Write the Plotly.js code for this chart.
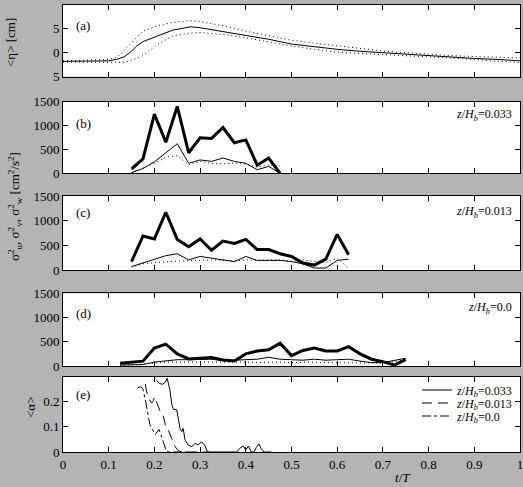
<!DOCTYPE html>
<html>
<head>
<meta charset="utf-8">
<script src="https://cdn.plot.ly/plotly-3.0.1.min.js"></script>
<style>
  html, body { margin: 0; padding: 0; background: #b4b4b4; }
  #plot { width: 523px; height: 487px; }
</style>
</head>
<body>
<div id="plot"></div>
<script>
// (a) mean surface elevation and envelope
let tEta = [0, 0.05, 0.1, 0.12, 0.135, 0.15, 0.16, 0.175, 0.19, 0.21, 0.24, 0.28, 0.3, 0.35, 0.4, 0.45, 0.5, 0.55, 0.6, 0.65, 0.7, 0.75, 0.8, 0.85, 0.9, 0.95, 1];
let etaMean = [-1.8, -1.75, -1.7, -1.3, -0.8, 0.3, 1.3, 2.3, 2.9, 3.6, 4.7, 5.4, 5.2, 4.4, 3.6, 2.8, 1.8, 1.2, 0.7, 0.3, 0.0, -0.3, -0.7, -0.9, -1.2, -1.4, -1.7];
let etaUpper = [-1.7, -1.6, -1.4, -0.8, 0.6, 2.0, 3.1, 4.5, 5.0, 5.7, 6.3, 6.7, 6.5, 5.6, 4.5, 3.5, 2.6, 2.0, 1.4, 0.8, 0.35, 0.0, -0.35, -0.6, -0.8, -1.0, -1.1];
let etaLower = [-1.95, -1.95, -1.95, -2.1, -2.0, -1.6, -1.2, -0.6, 0.5, 1.9, 3.5, 4.1, 4.2, 3.8, 3.1, 2.2, 1.4, 0.7, 0.1, -0.15, -0.35, -0.6, -0.8, -1.1, -1.4, -1.7, -2.1];

// (b) z/Hb = 0.033
let tB = [0.15, 0.175, 0.2, 0.225, 0.25, 0.275, 0.3, 0.325, 0.35, 0.375, 0.4, 0.425, 0.45, 0.475];
let uB = [90, 300, 1240, 650, 1400, 430, 745, 730, 960, 640, 700, 170, 320, 0];
let vB = [15, 100, 240, 430, 620, 210, 280, 250, 320, 250, 210, 75, 145, 0];
let wB = [10, 105, 210, 340, 370, 180, 250, 210, 200, 210, 190, 130, 175, 160];

// (c) z/Hb = 0.013
let tC = [0.15, 0.175, 0.2, 0.225, 0.25, 0.275, 0.3, 0.325, 0.35, 0.375, 0.4, 0.425, 0.45, 0.475, 0.5, 0.525, 0.55, 0.575, 0.6, 0.625];
let uC = [170, 690, 630, 1170, 620, 470, 630, 400, 585, 540, 620, 415, 415, 330, 275, 140, 100, 220, 720, 310];
let vC = [70, 140, 205, 290, 330, 205, 275, 240, 205, 170, 275, 195, 195, 195, 170, 125, 40, 40, 195, 220];
let wC = [55, 125, 150, 170, 180, 185, 195, 205, 195, 185, 205, 195, 205, 205, 180, 205, 170, 150, 240, 35];

// (d) z/Hb = 0.0
let tD = [0.125, 0.15, 0.175, 0.2, 0.225, 0.25, 0.275, 0.3, 0.325, 0.35, 0.375, 0.4, 0.425, 0.45, 0.475, 0.5, 0.525, 0.55, 0.575, 0.6, 0.625, 0.65, 0.675, 0.7, 0.725, 0.75];
let uD = [55, 85, 100, 370, 450, 250, 145, 160, 175, 125, 105, 250, 310, 335, 470, 215, 320, 370, 310, 310, 400, 250, 140, 90, 20, 130];
let vD = [20, 30, 30, 80, 100, 130, 130, 140, 140, 110, 120, 140, 140, 180, 140, 130, 120, 140, 120, 130, 140, 100, 70, 70, 110, 160];
let wD = [10, 20, 40, 60, 80, 80, 80, 80, 80, 80, 90, 80, 70, 80, 80, 70, 80, 80, 70, 70, 70, 70, 60, 60, 90, 130];

// (e) void fraction
let tE1 = [0.205, 0.212, 0.218, 0.224, 0.228, 0.234, 0.238, 0.242, 0.249, 0.253, 0.256, 0.26, 0.263, 0.267, 0.274, 0.282, 0.289, 0.296, 0.303, 0.31, 0.316, 0.33, 0.35, 0.37, 0.38, 0.387, 0.394, 0.4, 0.406, 0.412, 0.418, 0.423, 0.429, 0.434, 0.44, 0.448, 0.456];
let aE1 = [0.284, 0.272, 0.27, 0.278, 0.293, 0.247, 0.19, 0.17, 0.168, 0.127, 0.094, 0.081, 0.094, 0.048, 0.028, 0.021, 0.035, 0.028, 0.041, 0.028, 0, 0, 0, 0, 0, 0.015, 0.024, 0.008, 0.024, 0, 0, 0.018, 0.032, 0.012, 0, 0, 0];
let tE2 = [0.18, 0.183, 0.187, 0.19, 0.194, 0.198, 0.2, 0.204, 0.208, 0.212, 0.216, 0.22, 0.224, 0.228, 0.232, 0.236, 0.24, 0.245, 0.25, 0.255, 0.26, 0.28, 0.3, 0.32];
let aE2 = [0.27, 0.24, 0.22, 0.205, 0.195, 0.205, 0.22, 0.2, 0.185, 0.165, 0.155, 0.14, 0.107, 0.1, 0.08, 0.06, 0.04, 0.022, 0.01, 0.003, 0, 0, 0, 0];
let tE3 = [0.163, 0.17, 0.175, 0.178, 0.181, 0.184, 0.187, 0.19, 0.194, 0.198, 0.202, 0.206, 0.21, 0.214, 0.218, 0.222, 0.226, 0.23, 0.25, 0.28];
let aE3 = [0.255, 0.26, 0.25, 0.23, 0.2, 0.17, 0.13, 0.11, 0.095, 0.08, 0.07, 0.08, 0.09, 0.07, 0.045, 0.02, 0.005, 0, 0, 0];

let depthLabels = ["0.033", "0.013", "0.0"];
let tTicks = [0, 0.1, 0.2, 0.3, 0.4, 0.5, 0.6, 0.7, 0.8, 0.9, 1];
let tTickText = ["0", "0.1", "0.2", "0.3", "0.4", "0.5", "0.6", "0.7", "0.8", "0.9", "1"];

let serif = "Liberation Serif";
let dotted = "1px,3px";

function line(x, y, ax, width, dash, name, legend) {
  let tr = {
    x: x, y: y, xaxis: "x" + ax, yaxis: "y" + ax,
    type: "scatter", mode: "lines", name: name || "",
    showlegend: !!legend,
    line: { color: "black", width: width, dash: dash || "solid" },
    hoverinfo: "skip"
  };
  if (legend) tr.legend = legend;
  return tr;
}
function hb(v) { return "<i>z</i>/<i>H<sub>b</sub></i>=" + v; }

let traces = [
  line(tEta, etaUpper, "", 1, dotted),
  line(tEta, etaLower, "", 1, dotted),
  line(tEta, etaMean, "", 1),

  line(tB, wB, 2, 1, dotted),
  line(tB, vB, 2, 1),
  line(tB, uB, 2, 3),

  line(tC, wC, 3, 1, dotted),
  line(tC, vC, 3, 1),
  line(tC, uC, 3, 3),

  line(tD, wD, 4, 1, dotted),
  line(tD, vD, 4, 1),
  line(tD, uD, 4, 3),

  // one legend per row so the rows can sit close together
  line(tE1, aE1, 5, 1, "solid", hb(depthLabels[0]), "legend"),
  line(tE2, aE2, 5, 1, "10px,6px", hb(depthLabels[1]), "legend2"),
  line(tE3, aE3, 5, 1, "dashdot", hb(depthLabels[2]), "legend3")
];

// panel positions, measured top/bottom in pixels
let plotH = 448, marginTop = 4, plotL = 63, plotW = 457;
function dom(y0, y1) { return [(marginTop + plotH - y1) / plotH, (marginTop + plotH - y0) / plotH]; }
let domains = [dom(4.7, 76.7), dom(101.7, 173.3), dom(196, 270), dom(293.3, 366), dom(376.7, 452)];

function xax(n) {
  return {
    domain: [0, 1], range: [0, 1], anchor: n == 1 ? "y" : "y" + n,
    tickvals: tTicks, ticktext: tTickText, ticks: "inside", ticklen: 5, tickcolor: "black",
    showline: true, linecolor: "black", linewidth: 1, mirror: "ticks",
    showgrid: false, zeroline: false, showticklabels: n == 5,
    ticklabeloverflow: "allow",
    tickfont: { family: serif, size: 13, color: "black" }
  };
}
function yax(n, range, vals, text) {
  return {
    domain: domains[n - 1], range: range, anchor: n == 1 ? "x" : "x" + n,
    tickvals: vals, ticktext: text, ticks: "inside", ticklen: 5, tickcolor: "black",
    showline: true, linecolor: "black", linewidth: 1, mirror: "ticks",
    showgrid: false, zeroline: false,
    tickfont: { family: serif, size: 13, color: "black" }
  };
}

let sigVals = [0, 500, 1000, 1500];
let sigText = ["0", "500", "1000", "1500"];

function px(x) { return (x - plotL) / plotW; }
function py(y) { return (marginTop + plotH - y) / plotH; }
function note(text, x, y, anchor, size, angle) {
  return {
    text: text, xref: "paper", yref: "paper", x: px(x), y: py(y),
    xanchor: anchor || "left", yanchor: "middle", showarrow: false,
    textangle: angle || 0,
    font: { family: serif, size: size || 13, color: "black" }
  };
}
function leg(y) {
  return {
    x: px(417), y: py(y), xanchor: "left", yanchor: "middle",
    bgcolor: "rgba(0,0,0,0)", borderwidth: 0,
    font: { family: serif, size: 12, color: "black" },
    itemwidth: 30
  };
}

let layout = {
  width: 523, height: 487,
  margin: { l: plotL, r: 523 - plotL - plotW, t: marginTop, b: 35, pad: 0 },
  paper_bgcolor: "#b4b4b4", plot_bgcolor: "white",
  font: { family: serif, size: 13, color: "black" },
  xaxis: xax(1), xaxis2: xax(2), xaxis3: xax(3), xaxis4: xax(4), xaxis5: xax(5),
  yaxis: yax(1, [-5, 10], [-5, 0, 5, 10], ["5", "0", "5", "10"]),
  yaxis2: yax(2, [0, 1500], sigVals, sigText),
  yaxis3: yax(3, [0, 1500], sigVals, sigText),
  yaxis4: yax(4, [0, 1500], sigVals, sigText),
  yaxis5: yax(5, [0, 0.3], [0, 0.1, 0.2], ["0", "0.1", "0.2"]),
  showlegend: true,
  legend: leg(390), legend2: leg(403), legend3: leg(416),
  annotations: [
    note("(a)", 74, 25), note("(b)", 74, 123), note("(c)", 74, 212),
    note("(d)", 74, 313), note("(e)", 74, 394),
    note(hb(depthLabels[0]), 514, 115, "right", 12),
    note(hb(depthLabels[1]), 514, 212, "right", 12),
    note(hb(depthLabels[2]), 514, 308, "right", 12),
    note("<i>t</i>/<i>T</i>", 402, 478, "center", 13),
    note("&lt;η&gt; [cm]", 11, 43, "center", 13, -90),
    note("σ<sup>2</sup><sub>u</sub>, σ<sup>2</sup><sub>v</sub>, σ<sup>2</sup><sub>w</sub> [cm<sup>2</sup>/s<sup>2</sup>]", 15, 207, "center", 13, -90),
    note("&lt;α&gt;", 30, 408, "center", 13, -90)
  ]
};

Plotly.newPlot("plot", traces, layout, { displayModeBar: false, staticPlot: true });
</script>
</body>
</html>
